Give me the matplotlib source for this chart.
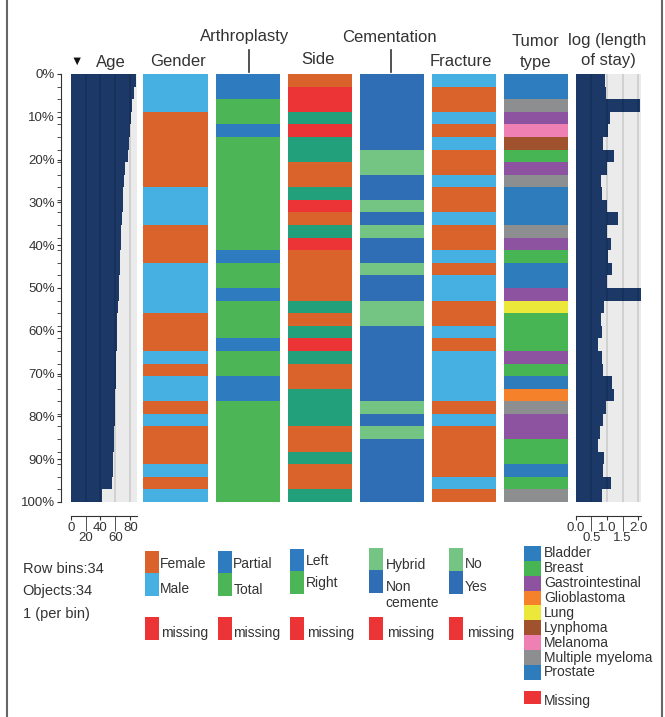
import matplotlib.pyplot as plt
from matplotlib.patches import Rectangle
from matplotlib.lines import Line2D
import numpy as np

plt.rcParams['font.family'] = ['Liberation Sans', 'DejaVu Sans']

W, H = 665, 717
n_bins = 34
rows = np.arange(n_bins)

# --- data (one value / category per row bin, sorted by age) ---
age = [87.8, 85.0, 82.8, 81.5, 80.1, 78.8, 76.6, 73.4, 71.6, 70.7, 69.9, 69.0,
       68.0, 67.2, 66.3, 65.8, 65.4, 64.9, 63.6, 62.7, 62.2, 61.8, 61.3, 60.9,
       60.5, 60.0, 59.5, 59.0, 58.6, 58.1, 57.2, 56.7, 55.4, 42.0]
log_stay = [0.94, 0.98, 2.05, 1.10, 1.04, 0.88, 1.23, 0.99, 0.81, 0.85, 0.99, 1.34,
            1.01, 1.13, 1.04, 1.16, 0.99, 2.09, 0.91, 0.80, 0.85, 0.72, 0.83, 0.88,
            1.15, 1.23, 0.97, 0.87, 0.79, 0.72, 0.91, 0.88, 1.13, 0.85]
gender = list("MMMFFFFFFMMMFFFMMMMFFFMFMMFMFFFMFM")
arthro = list("PPTTPTTTTTTTTTPTTPTTTPTTPPTTTTTTTT")
side = list("LXXRXRRLLRXLRXLLLLRLRXRLLRRRLLRLLR")
cement = list("NNNNNNHHNNHNHNNHNNHHNNNNNNHNHNNNNN")
fracture = list("NYYNYNYYNYYNYYNYNNYYNYNNNNYNYYYYNY")
tumor = ["Bladder", "Bladder", "Multiple myeloma", "Gastrointestinal", "Melanoma",
         "Lynphoma", "Breast", "Gastrointestinal", "Multiple myeloma", "Prostate",
         "Prostate", "Prostate", "Multiple myeloma", "Gastrointestinal", "Breast",
         "Prostate", "Prostate", "Gastrointestinal", "Lung", "Breast", "Breast",
         "Breast", "Gastrointestinal", "Breast", "Prostate", "Glioblastoma",
         "Multiple myeloma", "Gastrointestinal", "Gastrointestinal", "Breast",
         "Breast", "Prostate", "Breast", "Multiple myeloma"]

tumor_names = ["Bladder", "Breast", "Gastrointestinal", "Glioblastoma", "Lung",
               "Lynphoma", "Melanoma", "Multiple myeloma", "Prostate"]

ORANGE = '#d9632a'
LBLUE = '#47b0e3'
BLUE = '#2e7bbf'
GREEN = '#4cb657'
RED = '#ec3336'
TEAL = '#22a07b'
CBLUE = '#2f6db4'
LGREEN = '#74c584'
NAVY = '#1b3866'
TXT = '#333333'

gender_col = {'F': ORANGE, 'M': LBLUE}
arthro_col = {'P': BLUE, 'T': GREEN}
side_col = {'L': ORANGE, 'R': TEAL, 'X': RED}
cement_col = {'H': LGREEN, 'N': CBLUE}
fracture_col = {'N': LBLUE, 'Y': ORANGE}
tumor_col = {'Bladder': '#2e7ebf', 'Breast': '#47b553', 'Gastrointestinal': '#8d52a0',
             'Glioblastoma': '#f5822a', 'Lung': '#ece83a', 'Lynphoma': '#9f522d',
             'Melanoma': '#ee80b3', 'Multiple myeloma': '#8d8e8f', 'Prostate': '#2f7cbd'}

fig = plt.figure(figsize=(W / 100, H / 100), dpi=100)

TOP, BOT = 74, 502


def ax_px(x0, y0, x1, y1):
    return fig.add_axes([x0 / W, 1 - y1 / H, (x1 - x0) / W, (y1 - y0) / H])


def fx(x):
    return x / W


def fy(y):
    return 1 - y / H


def cat_column(x0, values, cmap):
    ax = ax_px(x0, TOP, x0 + 64.5, BOT)
    ax.barh(rows, 1, height=1, color=[cmap[v] for v in values],
            linewidth=0, antialiased=False)
    ax.set_xlim(0, 1)
    ax.set_ylim(n_bins - 0.5, -0.5)
    ax.axis('off')
    return ax


def num_column(x0, x1, values, xmax, grid, major, major_lab, minor, minor_lab):
    ax = ax_px(x0, TOP, x1, BOT)
    ax.set_facecolor('#ebebeb')
    ax.barh(rows, values, height=1, color=NAVY, linewidth=0,
            antialiased=False, zorder=2)
    for g in grid:
        ax.axvline(g, color='black', alpha=0.14, lw=1.1, zorder=3)
    ax.set_xlim(0, xmax)
    ax.set_ylim(n_bins - 0.5, -0.5)
    for s in ['top', 'right', 'left']:
        ax.spines[s].set_visible(False)
    ax.spines['bottom'].set_position(('outward', 10))
    ax.spines['bottom'].set_color(TXT)
    ax.set_yticks([])
    ax.set_xticks(major)
    ax.set_xticklabels(major_lab)
    ax.set_xticks(minor, minor=True)
    ax.set_xticklabels(minor_lab, minor=True)
    ax.tick_params(axis='x', which='major', length=3, pad=1.5, labelsize=9.5,
                   colors=TXT)
    ax.tick_params(axis='x', which='minor', length=10.5, pad=1, labelsize=9.5,
                   colors=TXT)
    return ax


# y axis (percent of rows)
yax = ax_px(60.7, TOP, 61.7, BOT)
yax.set_ylim(1, 0)
yax.set_xticks([])
for s in ['top', 'right', 'bottom']:
    yax.spines[s].set_visible(False)
yax.spines['left'].set_color(TXT)
pct = np.arange(0, 1.01, 0.1)
yax.set_yticks(pct)
yax.set_yticklabels([f"{int(round(p * 100))}%" for p in pct])
yax.set_yticks(np.arange(n_bins + 1) / n_bins, minor=True)
yax.tick_params(axis='y', which='both', length=3, pad=1, labelsize=9.5, colors=TXT)
yax.patch.set_alpha(0)

num_column(70.7, 136.6, age, 88.5, [20, 40, 60, 80],
           [0, 40, 80], ['0', '40', '80'], [20, 60], ['20', '60'])
cat_column(143.3, gender, gender_col)
cat_column(215.7, arthro, arthro_col)
cat_column(287.5, side, side_col)
cat_column(359.5, cement, cement_col)
cat_column(431.7, fracture, fracture_col)
cat_column(503.5, tumor, tumor_col)
num_column(575.7, 641.0, log_stay, 2.09, [0.5, 1.0, 1.5, 2.0],
           [0.0, 1.0, 2.0], ['0.0', '1.0', '2.0'], [0.5, 1.5], ['0.5', '1.5'])

# headers
hfs = 12
fig.text(fx(77), fy(62), '\u25bc', fontsize=9, color='#111111', ha='center', va='center')
fig.text(fx(111), fy(62), 'Age', fontsize=hfs, color=TXT, ha='center', va='center')
fig.text(fx(178), fy(62), 'Gender', fontsize=hfs, color=TXT, ha='center', va='center')
fig.text(fx(245), fy(37), 'Arthroplasty', fontsize=hfs, color=TXT, ha='center', va='center')
fig.text(fx(318), fy(60), 'Side', fontsize=hfs, color=TXT, ha='center', va='center')
fig.text(fx(389), fy(37), 'Cementation', fontsize=hfs, color=TXT, ha='center', va='center')
fig.text(fx(461), fy(61), 'Fracture', fontsize=hfs, color=TXT, ha='center', va='center')
fig.text(fx(535), fy(42), 'Tumor', fontsize=hfs, color=TXT, ha='center', va='center')
fig.text(fx(535), fy(62), 'type', fontsize=hfs, color=TXT, ha='center', va='center')
fig.text(fx(607), fy(41), 'log (length', fontsize=hfs, color=TXT, ha='center', va='center')
fig.text(fx(608), fy(61), 'of stay)', fontsize=hfs, color=TXT, ha='center', va='center')
for xc in (249, 390.5):
    fig.add_artist(Line2D([fx(xc), fx(xc)], [fy(50), fy(72)], color=TXT, lw=1.2))

# frame
for xe in (7, 662):
    fig.add_artist(Line2D([fx(xe), fx(xe)], [0, 1], color='#666666', lw=1.5))

# info text
lfs = 10
for txt, yc in (('Row bins:34', 569), ('Objects:34', 591), ('1 (per bin)', 614)):
    fig.text(fx(22.7), fy(yc), txt, fontsize=10.5, color=TXT, ha='left', va='center')


def patch(x0, x1, y0, y1, color):
    fig.add_artist(Rectangle((fx(x0), fy(y1)), fx(x1) - fx(x0), fy(y0) - fy(y1),
                             facecolor=color, edgecolor='none'))


def label(x, y, txt):
    fig.text(fx(x), fy(y), txt, fontsize=lfs, color=TXT, ha='left', va='center')


# two-level legends: (x0, x1, [(label, colour, y0, y1, ytext)], text x, missing text x)
legends = [
    (145, 159, [('Female', ORANGE, 550.7, 572.7, 564), ('Male', LBLUE, 572.7, 595.7, 589)], 160, 160.7),
    (218, 232, [('Partial', BLUE, 550.5, 572.5, 564.5), ('Total', GREEN, 572.5, 596, 589.5)], 233.3, 233.5),
    (290, 304, [('Left', BLUE, 549, 571, 561), ('Right', GREEN, 571, 594.3, 583)], 306, 306.7),
    (369.3, 383.3, [('Hybrid', LGREEN, 547.7, 570.3, 564.5), ('Non\ncemente', CBLUE, 570.3, 593.3, 595)], 385.7, 387.3),
    (449.3, 463.3, [('No', LGREEN, 547.7, 570.7, 564.5), ('Yes', CBLUE, 570.7, 594, 587)], 465, 467),
]
for x0, x1, items, tx, mx in legends:
    for name, col, y0, y1, yt in items:
        patch(x0, x1, y0, y1, col)
        if '\n' in name:
            label(tx, 587, name.split('\n')[0])
            label(tx, 603, name.split('\n')[1])
        else:
            label(tx, yt, name)
    patch(x0, x1, 616.5, 639.5, RED)
    label(mx, 632.5, 'missing')

# tumor legend
step = 14.9
for i, name in enumerate(tumor_names):
    yc = 553.3 + i * step
    patch(524.3, 541, yc - step / 2, yc + step / 2, tumor_col[name])
    label(544, yc, name)
patch(524.3, 541, 690.7, 704, RED)
label(544, 700.5, 'Missing')

fig.savefig('out.png', dpi=100)
